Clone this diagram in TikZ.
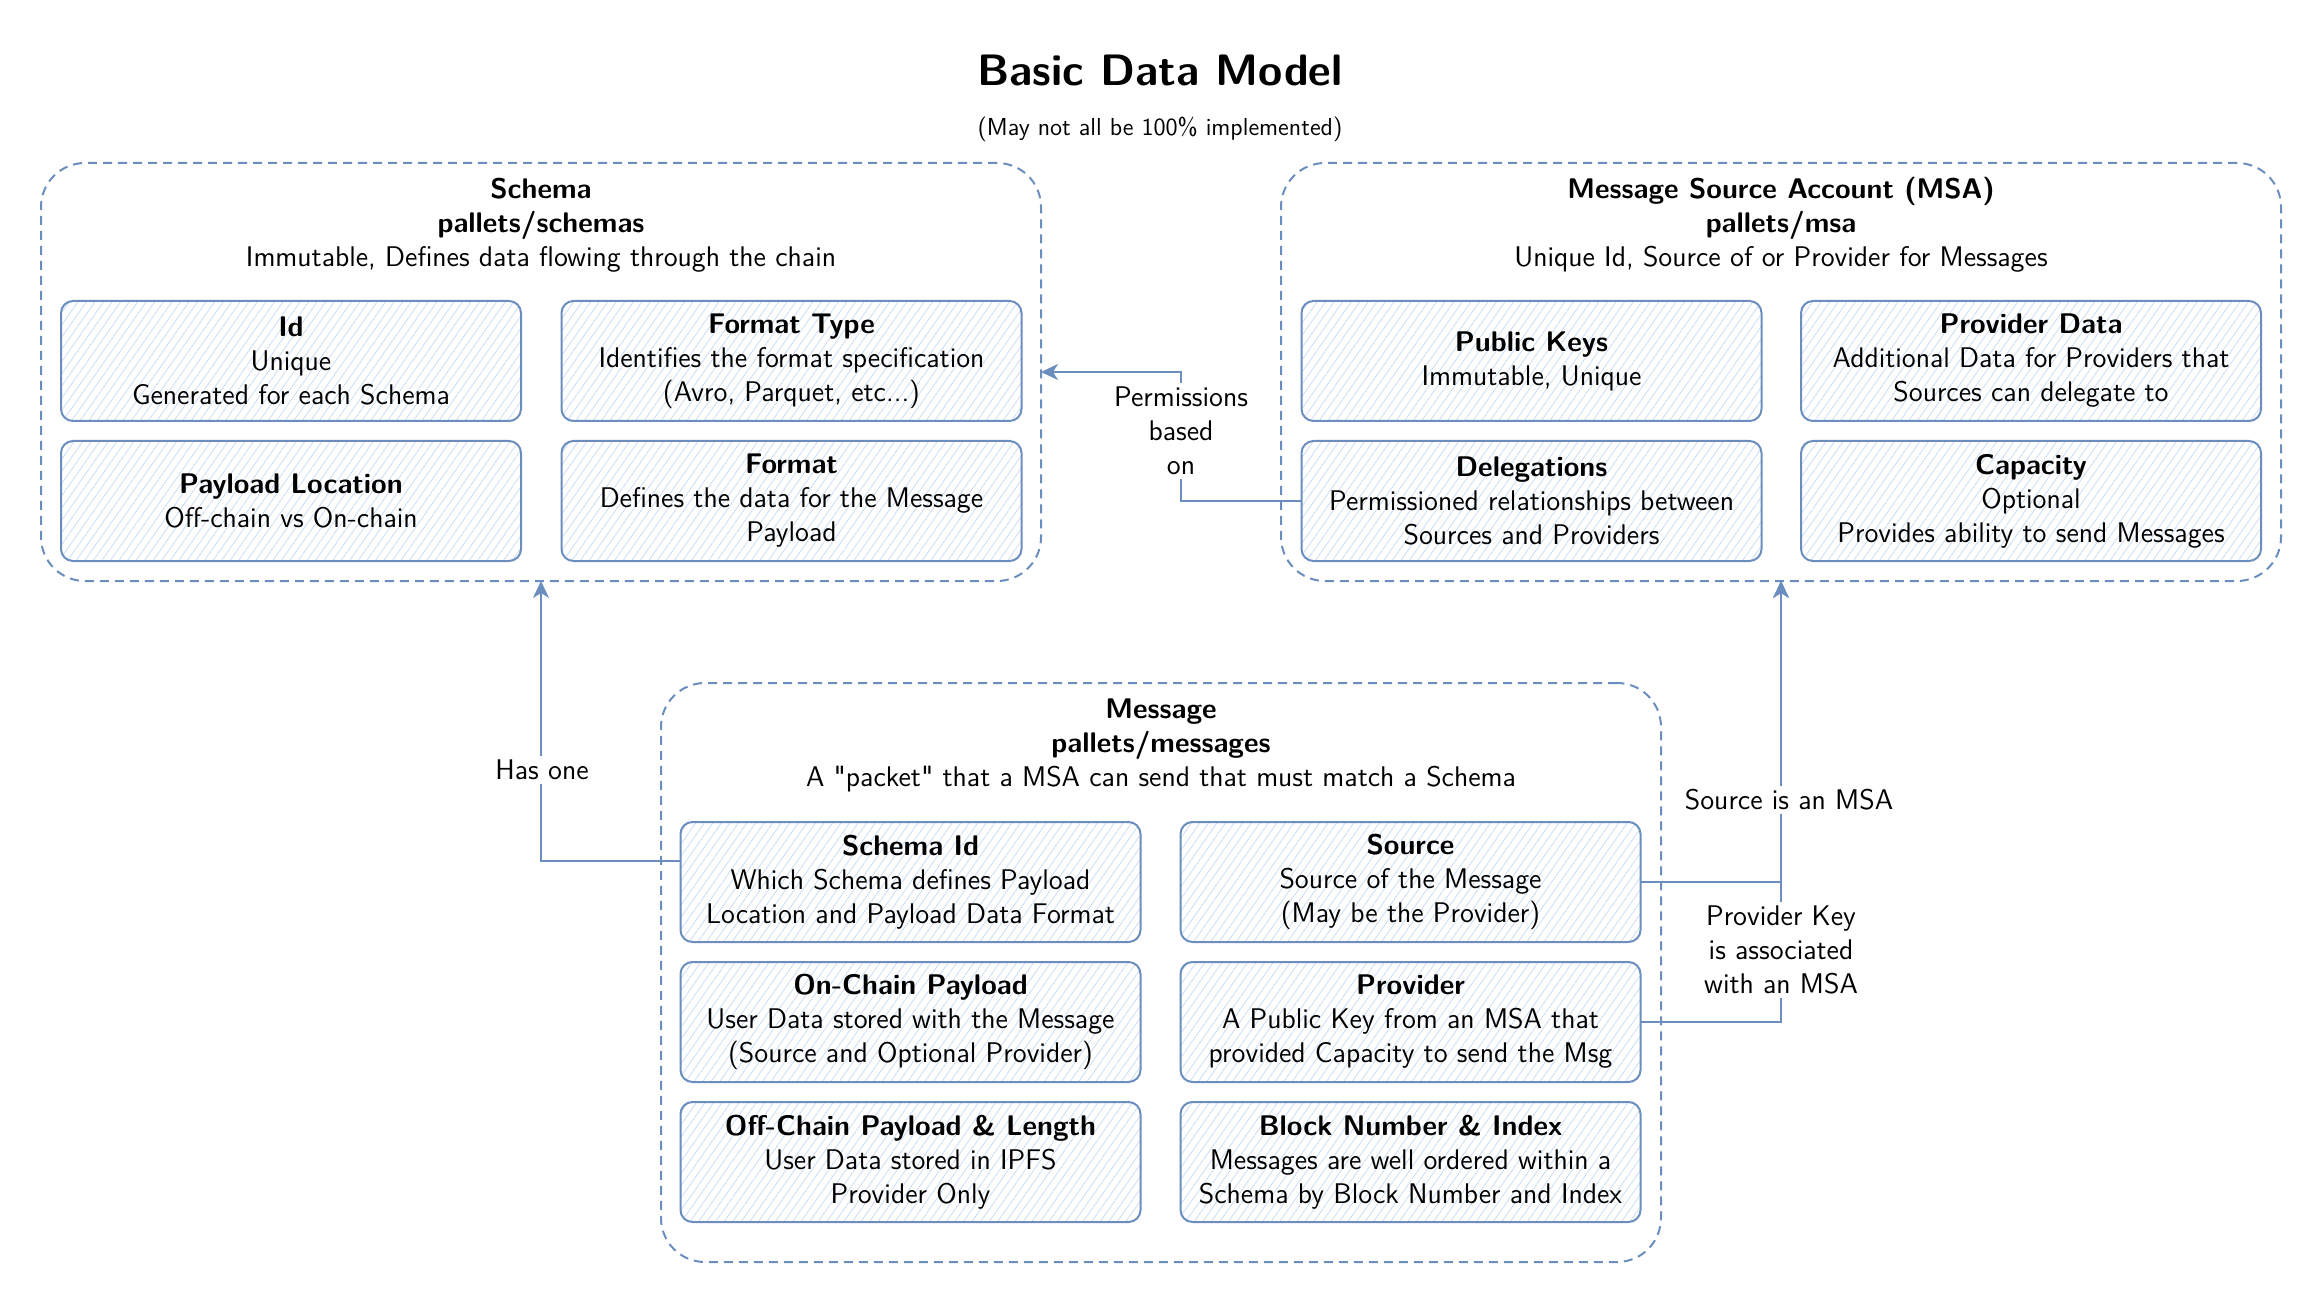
\documentclass[tikz,border=0pt]{standalone}
\usepackage{fontspec}
\newfontfamily\qfnt{lmsans10-regular.otf}
\newcommand{\sq}{{\qfnt\fontsize{14.2}{17}\selectfont\char"22}}
\usetikzlibrary{patterns.meta,arrows.meta}
\definecolor{sk}{HTML}{6C8EBF}
\definecolor{hatchc}{HTML}{C5D8F2}
\tikzset{
  grp/.style={draw=sk, line width=1pt, dash pattern=on 4.5pt off 3pt, rounded corners=22pt, minimum width=500pt, inner sep=0pt, outer sep=0pt},
  card/.style={draw=sk, line width=1pt, rounded corners=6pt,
    pattern={Lines[angle=55,distance=3.5pt,line width=0.35pt]}, pattern color=hatchc,
    minimum width=230pt, minimum height=60pt, align=center, inner sep=1pt, outer sep=0pt,
    font=\sffamily\fontsize{14.2}{17}\selectfont},
  gtitle/.style={align=center, font=\sffamily\fontsize{14.2}{17}\selectfont},
  lbl/.style={fill=white, align=center, inner sep=2pt, font=\sffamily\fontsize{14.2}{17}\selectfont},
  conn/.style={draw=sk, line width=1pt},
  arr/.style={conn, -{Stealth[length=8.5pt,width=8pt,inset=2.5pt]}}
}
\begin{document}
\begin{tikzpicture}[x=0.5pt,y=-0.5pt]
\useasboundingbox (0,0) rectangle (2322,1304);

% title
\node[font=\sffamily\bfseries\fontsize{22}{26}\selectfont] (title) at (1160,70) {Basic Data Model};
\node[font=\sffamily\fontsize{12.3}{15}\selectfont] (subtitle) at (1160,129) {(May not all be 100\% implemented)};

% groups
\node[grp, minimum height=209pt] (sgrp) at (541,372) {};
\node[grp, minimum height=209pt] (mgrp) at (1781,372) {};
\node[grp, minimum height=289.5pt] (msggrp) at (1161,972.5) {};

\node[gtitle] (stitle) at (541,225) {\textbf{Schema}\\\textbf{pallets/schemas}\\Immutable, Defines data flowing through the chain};
\node[gtitle] (mtitle) at (1781,225) {\textbf{Message Source Account (MSA)}\\\textbf{pallets/msa}\\Unique Id, Source of or Provider for Messages};
\node[gtitle] (msgtitle) at (1161,745) {\textbf{Message}\\\textbf{pallets/messages}\\A \sq packet\sq{} that a MSA can send that must match a Schema};

% schema cards
\node[card] (sid0) at (291,361) {\textbf{Id}\\Unique\\Generated for each Schema};
\node[card] (sft) at (791.5,361) {\textbf{Format Type}\\Identifies the format specification\\(Avro, Parquet, etc...)};
\node[card] (spl) at (291,501) {\textbf{Payload Location}\\Off-chain vs On-chain};
\node[card] (sfmt) at (791.5,501) {\textbf{Format}\\Defines the data for the Message\\Payload};

% msa cards
\node[card] (pk) at (1531.5,361) {\textbf{Public Keys}\\Immutable, Unique};
\node[card] (pd) at (2031,361) {\textbf{Provider Data}\\Additional Data for Providers that\\Sources can delegate to};
\node[card] (del) at (1531.5,501) {\textbf{Delegations}\\Permissioned relationships between\\Sources and Providers};
\node[card] (cap) at (2031,501) {\textbf{Capacity}\\Optional\\Provides ability to send Messages};

% message cards
\node[card] (sid) at (910.5,882) {\textbf{Schema Id}\\Which Schema defines Payload\\Location and Payload Data Format};
\node[card] (src) at (1410.5,882) {\textbf{Source}\\Source of the Message\\(May be the Provider)};
\node[card] (ocp) at (910.5,1022) {\textbf{On-Chain Payload}\\User Data stored with the Message\\(Source and Optional Provider)};
\node[card] (prov) at (1410.5,1022) {\textbf{Provider}\\A Public Key from an MSA that\\provided Capacity to send the Msg};
\node[card] (offp) at (910.5,1162) {\textbf{Off-Chain Payload \& Length}\\User Data stored in IPFS\\Provider Only};
\node[card] (blk) at (1410.5,1162) {\textbf{Block Number \& Index}\\Messages are well ordered within a\\Schema by Block Number and Index};

% connectors
\draw[arr] ([yshift=10.5pt]sid.west) -| (sgrp.south);
\draw[arr] (del.west) -- (1181,501) |- (sgrp.east);
\draw[arr] (src.east) -| (mgrp.south);
\draw[arr] (prov.east) -| (mgrp.south);

% labels
\node[lbl] (lhas) at (542,770) {Has one};
\node[lbl] (lperm) at (1181,431) {Permissions\\based\\on};
\node[lbl] (lsrc) at (1789,800) {Source is an MSA};
\node[lbl] (lprov) at (1781,950) {Provider Key\\is associated\\with an MSA};
\end{tikzpicture}
\end{document}
